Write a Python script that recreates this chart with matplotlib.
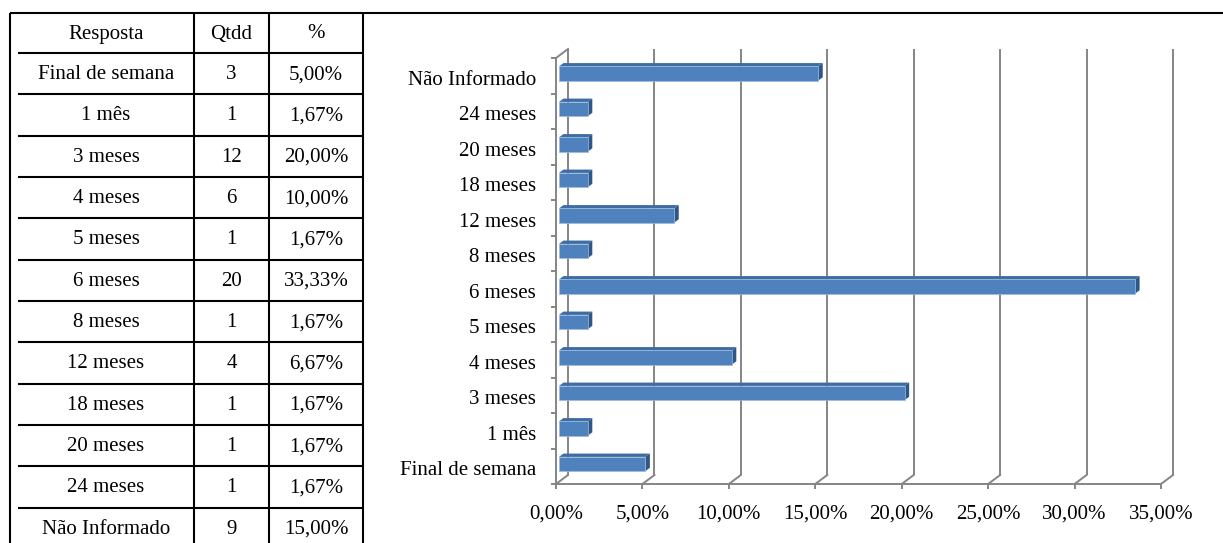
import matplotlib
matplotlib.use('Agg')
import matplotlib.pyplot as plt
from matplotlib.patches import Polygon
from matplotlib.ticker import FuncFormatter
import matplotlib.transforms as mtransforms
import numpy as np

# ---------------- data ----------------
respostas = ["Final de semana", "1 mês", "3 meses", "4 meses", "5 meses", "6 meses",
             "8 meses", "12 meses", "18 meses", "20 meses", "24 meses", "Não Informado"]
qtdd = [3, 1, 12, 6, 1, 20, 1, 4, 1, 1, 1, 9]
percentuais = [5.00, 1.67, 20.00, 10.00, 1.67, 33.33, 1.67, 6.67, 1.67, 1.67, 1.67, 15.00]
table_header = ["Resposta", "Qtdd", "%"]
x_ticks = [0, 5, 10, 15, 20, 25, 30, 35]

def fmt_pct(v):
    return f"{v:.2f}".replace('.', ',') + '%'

# ---------------- figure ----------------
W, H = 1223, 543
plt.rcParams['font.family'] = ['Liberation Serif', 'DejaVu Serif']
FS = 15
fig = plt.figure(figsize=(W / 100, H / 100), dpi=100)

# background axes in pixel coordinates (table + frame)
bg = fig.add_axes([0, 0, 1, 1])
bg.set_xlim(0, W)
bg.set_ylim(H, 0)
bg.axis('off')

LW = 1.5
top_y = 13
left_x = 10
col_x = [18, 194, 269, 363]
row0 = 53
row_h = 41.33

bg.plot([left_x, W], [top_y, top_y], color='black', lw=LW, solid_capstyle='butt')
bg.plot([left_x, left_x], [top_y, H], color='black', lw=LW, solid_capstyle='butt')
for cx in col_x[1:]:
    bg.plot([cx, cx], [top_y, H], color='black', lw=LW, solid_capstyle='butt')
for i in range(len(respostas)):
    yy = row0 + i * row_h
    bg.plot([col_x[0], col_x[-1]], [yy, yy], color='black', lw=LW, solid_capstyle='butt')

centers = [(col_x[j] + col_x[j + 1]) / 2 for j in range(3)]
for j, h in enumerate(table_header):
    bg.text(centers[j], (top_y + row0) / 2 + 1, h, ha='center', va='center', fontsize=FS)
for i, (r, q, p) in enumerate(zip(respostas, qtdd, percentuais)):
    yc = row0 + (i + 0.5) * row_h + 1
    bg.text(centers[0], yc, r, ha='center', va='center', fontsize=FS)
    bg.text(centers[1], yc, str(q), ha='center', va='center', fontsize=FS)
    bg.text(centers[2], yc, fmt_pct(p), ha='center', va='center', fontsize=FS)

# ---------------- chart ----------------
px_left, px_right, px_top, px_bot = 556, 1161, 58, 484
ax = fig.add_axes([px_left / W, (H - px_bot) / H, (px_right - px_left) / W, (px_bot - px_top) / H])
ax.patch.set_alpha(0)
ax.set_xlim(0, 35)
n = len(respostas)
ax.set_ylim(-0.5, n - 0.5)

ux = (px_right - px_left) / 35.0
uy = (px_bot - px_top) / n
Dx, Dy = 12 / ux, 9 / uy          # wall depth in data units
f0, f1 = 0.25, 0.62               # bar front/back depth fractions

grid_c = '#858585'
glw = 1.4
for xv in x_ticks:
    ax.plot([xv + Dx, xv + Dx], [-0.5 + Dy, n - 0.5 + Dy], color=grid_c, lw=glw,
            clip_on=False, zorder=1, solid_capstyle='butt')
    ax.plot([xv, xv + Dx], [-0.5, -0.5 + Dy], color=grid_c, lw=glw, clip_on=False, zorder=1)
ax.plot([0, Dx], [n - 0.5, n - 0.5 + Dy], color=grid_c, lw=glw, clip_on=False, zorder=1)

front_c = '#4F81BD'
top_c = '#3E6DA3'
side_c = '#2E5687'
bh = 0.4
ypos = np.arange(n)
ax.barh(ypos + f0 * Dy, percentuais, height=bh, left=f0 * Dx, color=front_c,
        edgecolor='#9DBBE0', linewidth=0.5, zorder=3, clip_on=False)
ddx, ddy = (f1 - f0) * Dx, (f1 - f0) * Dy
for i, v in enumerate(percentuais):
    x0 = f0 * Dx
    y0 = i - bh / 2 + f0 * Dy
    top = Polygon([(x0, y0 + bh), (x0 + v, y0 + bh), (x0 + v + ddx, y0 + bh + ddy),
                   (x0 + ddx, y0 + bh + ddy)], closed=True, facecolor=top_c,
                  edgecolor='none', zorder=2.5, clip_on=False)
    side = Polygon([(x0 + v, y0), (x0 + v, y0 + bh), (x0 + v + ddx, y0 + bh + ddy),
                    (x0 + v + ddx, y0 + ddy)], closed=True, facecolor=side_c,
                   edgecolor='none', zorder=2.6, clip_on=False)
    ax.add_patch(top)
    ax.add_patch(side)

for s in ['top', 'right']:
    ax.spines[s].set_visible(False)
for s in ['left', 'bottom']:
    ax.spines[s].set_color(grid_c)
    ax.spines[s].set_linewidth(glw)

ax.set_xticks(x_ticks)
ax.xaxis.set_major_formatter(FuncFormatter(lambda v, p: fmt_pct(v)))
ax.tick_params(axis='x', length=3.6, width=glw, color=grid_c, pad=11, labelsize=FS,
               labelcolor='black')
ax.set_yticks(ypos)
ax.set_yticklabels(respostas)
ax.set_yticks(np.arange(-0.5, n, 1), minor=True)
ax.tick_params(axis='y', which='major', length=0, pad=14.4, labelsize=FS, labelcolor='black')
ax.tick_params(axis='y', which='minor', length=3.6, width=glw, color=grid_c)

shift = mtransforms.ScaledTranslation(0, -2 / 100, fig.dpi_scale_trans)
for lbl in ax.get_yticklabels():
    lbl.set_transform(lbl.get_transform() + shift)

fig.savefig('out.png', dpi=100)
